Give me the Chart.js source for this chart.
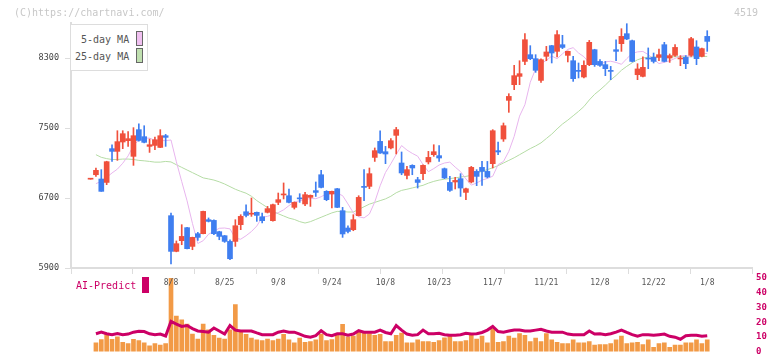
<!DOCTYPE html>
<html>
<head>
<meta charset="utf-8">
<script src="https://cdn.jsdelivr.net/npm/chart.js@4.4.1/dist/chart.umd.min.js"></script>
<style>
  html, body { margin: 0; padding: 0; background: #fff; }
  #wrap { position: relative; width: 772px; height: 361px; overflow: hidden; font-family: 'DejaVu Sans Mono', monospace; }
  #wrap canvas { position: absolute; left: 0; top: 0; }
  .txt { position: absolute; white-space: nowrap; font-size: 10px; line-height: 12px; }
  .sw { position: absolute; box-sizing: border-box; width: 7px; height: 15px; }
  #legendBox { position: absolute; left: 70px; top: 24px; width: 78px; height: 47px; box-sizing: border-box; border: 1px solid #ddd; background: #fff; }
</style>
</head>
<body>
<div id="wrap">
  <canvas id="volChart" width="772" height="361"></canvas>
  <canvas id="priceChart" width="772" height="361"></canvas>
  <div class="txt" style="left:14px;top:7px;color:#c8c8c8">(C)https://chartnavi.com/</div>
  <div class="txt" style="left:734px;top:7px;color:#c8c8c8">4519</div>
  <div id="legendBox"></div>
  <div class="txt" style="left:81px;top:34px;color:#555">5-day MA</div>
  <div class="txt" style="left:75px;top:51px;color:#555">25-day MA</div>
  <div class="sw" style="left:136px;top:31px;background:#f0c0f0;border:1px solid #666"></div>
  <div class="sw" style="left:136px;top:48px;background:#c0e0b0;border:1px solid #666"></div>
  <div class="txt" style="left:76px;top:280px;color:#cc0066">AI-Predict</div>
  <div class="sw" style="left:142px;top:277px;height:16px;background:#cc0066"></div>
</div>
<script>
// trading days, 7/17 .. 1/8
const dates = ['7/17','7/18','7/22','7/23','7/24','7/25','7/28','7/29','7/30','7/31',
  '8/1','8/4','8/5','8/6','8/7','8/8','8/12','8/13','8/14','8/15',
  '8/18','8/19','8/20','8/21','8/22','8/25','8/26','8/27','8/28','8/29',
  '9/1','9/2','9/3','9/4','9/5','9/8','9/9','9/10','9/11','9/12',
  '9/16','9/17','9/18','9/19','9/22','9/24','9/25','9/26','9/29','9/30',
  '10/1','10/2','10/3','10/6','10/7','10/8','10/9','10/10','10/14','10/15',
  '10/16','10/17','10/20','10/21','10/22','10/23','10/24','10/27','10/28','10/29',
  '10/30','10/31','11/4','11/5','11/6','11/7','11/10','11/11','11/12','11/13',
  '11/14','11/17','11/18','11/19','11/20','11/21','11/25','11/26','11/27','11/28',
  '12/1','12/2','12/3','12/4','12/5','12/8','12/9','12/10','12/11','12/12',
  '12/15','12/16','12/17','12/18','12/19','12/22','12/23','12/24','12/25','12/26',
  '12/29','12/30','1/5','1/6','1/7','1/8'];

const open = [6915,6966,6917,6878,7264,7233,7340,7355,7176,7481,
  7401,7290,7301,7278,7412,6498,6090,6212,6361,6147,
  6292,6292,6452,6444,6315,6269,6204,6204,6395,6543,
  6515,6536,6486,6536,6441,6650,6735,6726,6593,6700,
  6632,6707,6784,6966,6776,6746,6806,6555,6357,6338,
  6498,6833,6833,7164,7347,7229,7272,7416,7100,6958,
  7073,6909,6978,7112,7195,7184,7035,6878,6883,6921,
  6764,6883,7004,7050,7004,7092,7241,7374,7816,7995,
  8090,8261,8338,8292,8044,8319,8441,8376,8452,8330,
  8269,8159,8083,8224,8395,8261,8224,8155,8395,8464,
  8578,8498,8109,8090,8295,8307,8307,8452,8300,8330,
  8289,8307,8330,8426,8319,8547];
const high = [6915,7043,7024,7120,7309,7469,7469,7458,7504,7549,
  7526,7374,7397,7481,7427,6529,6209,6395,6365,6253,
  6307,6550,6472,6450,6320,6272,6223,6452,6509,6623,
  6700,6540,6529,6604,6630,6757,6872,6803,6655,6749,
  6764,6735,6883,7016,6784,6780,6810,6593,6383,6509,
  6726,7024,7043,7272,7469,7290,7378,7507,7226,7061,
  7080,6936,7078,7233,7309,7298,7043,6947,6936,6978,
  6814,7061,7024,7118,7118,7481,7340,7557,7892,8216,
  8269,8578,8441,8338,8290,8433,8445,8612,8559,8380,
  8319,8243,8269,8501,8400,8281,8261,8204,8509,8635,
  8692,8505,8235,8312,8415,8357,8403,8479,8346,8452,
  8327,8327,8536,8498,8412,8612];
const low = [6915,6947,6776,6852,7118,7130,7264,7290,7073,7350,
  7330,7221,7252,7275,7290,5946,6085,6166,6118,6109,
  6215,6290,6426,6281,6223,6193,5995,6147,6338,6483,
  6490,6433,6414,6529,6435,6624,6689,6645,6574,6650,
  6612,6604,6718,6815,6669,6586,6590,6250,6300,6326,
  6495,6669,6806,7118,7210,7092,7260,7203,6966,6917,
  6966,6814,6909,7089,7176,7118,6921,6776,6803,6718,
  6681,6872,6841,6844,6929,7043,7195,7347,7679,7938,
  7995,8224,8281,8136,8021,8269,8243,8312,8407,8255,
  8033,8072,8072,8212,8204,8204,8098,8052,8269,8376,
  8510,8255,8052,8085,8178,8243,8269,8255,8250,8319,
  8212,8178,8319,8224,8312,8376];
const close = [6915,7016,6776,7115,7233,7344,7435,7378,7412,7358,
  7336,7309,7366,7412,7393,6090,6178,6261,6121,6250,
  6250,6547,6433,6292,6261,6204,6006,6383,6490,6501,
  6522,6501,6441,6578,6624,6681,6740,6650,6650,6690,
  6738,6730,6764,6821,6681,6776,6593,6289,6318,6452,
  6707,6821,6978,7241,7214,7203,7355,7481,6986,7024,
  7043,6878,7073,7164,7229,7157,6929,6787,6901,6814,
  6806,7050,6947,7004,6940,7469,7226,7526,7861,8098,
  8121,8509,8292,8159,8281,8369,8357,8567,8421,8376,
  8064,8147,8216,8479,8224,8216,8178,8147,8376,8547,
  8517,8261,8175,8193,8288,8261,8338,8261,8327,8421,
  8300,8235,8521,8292,8407,8490];

const ma5 = [null,6864,6890,6936,6986,7030,7097,7181,7301,7360,
  7385,7384,7359,7356,7356,7363,7114,6888,6667,6409,
  6180,6212,6286,6320,6354,6357,6347,6239,6229,6269,
  6317,6380,6479,6491,6509,6533,6565,6613,6655,6669,
  6682,6694,6692,6714,6749,6747,6754,6727,6632,6531,
  6486,6472,6517,6655,6840,6992,7091,7198,7299,7248,
  7210,7178,7082,7001,7036,7077,7100,7110,7053,7001,
  6918,6847,6872,6904,6924,6949,7082,7117,7233,7404,
  7636,7766,8023,8176,8236,8272,8322,8292,8347,8399,
  8418,8357,8315,8245,8256,8226,8256,8263,8249,8228,
  8293,8353,8370,8375,8339,8287,8236,8251,8268,8295,
  8322,8329,8309,8361,8354,8351];
const ma25 = [null,7195,7165,7150,7140,7140,7145,7145,7140,7130,
  7125,7118,7110,7110,7118,7112,7080,7050,7020,6990,
  6960,6930,6918,6905,6885,6860,6830,6800,6776,6755,
  6720,6670,6630,6590,6550,6520,6495,6470,6455,6430,
  6414,6430,6455,6480,6505,6530,6547,6545,6540,6540,
  6570,6600,6630,6650,6670,6690,6720,6760,6787,6800,
  6815,6830,6845,6870,6890,6905,6915,6922,6930,6940,
  6947,6960,6985,7005,7025,7045,7070,7100,7130,7160,
  7195,7230,7265,7295,7330,7380,7430,7490,7545,7590,
  7640,7690,7745,7820,7885,7935,7990,8050,8100,8160,
  8205,8245,8280,8300,8310,8312,8314,8315,8315,8314,
  8316,8315,8314,8316,8318,8318];

// volume, million shares
const volume = [null,2.9,3.9,5.7,4.0,4.8,3.0,2.6,4.0,3.6,
  2.9,1.9,2.6,2.1,2.6,23.9,11.6,10.4,9.0,5.7,
  4.1,9.0,7.1,5.3,4.4,4.1,7.1,15.3,6.3,5.6,
  4.4,3.8,3.6,4.1,3.6,4.1,5.6,3.8,2.9,4.4,
  3.0,3.3,3.8,5.7,3.6,3.9,5.3,8.9,4.8,5.1,
  6.3,6.0,5.9,5.3,5.6,3.3,3.3,5.3,6.0,2.9,
  2.9,3.8,3.3,3.3,3.0,3.6,4.5,5.1,3.3,3.3,
  3.6,5.6,4.1,5.1,2.9,7.5,3.0,3.3,5.1,4.4,
  5.9,5.3,3.3,4.4,3.3,5.9,3.8,3.0,2.6,2.6,
  3.8,2.9,2.9,3.3,2.1,2.3,2.3,2.6,3.8,5.1,
  2.6,2.9,3.0,2.3,3.8,1.4,2.6,2.9,1.4,2.1,
  2.1,2.9,2.9,3.8,2.6,3.8];
const aiPredict = [null,12.1,13.2,12.1,11.5,12.3,11.5,11.9,13.2,13.8,
  13.6,12.1,11.5,11.9,10.6,20.5,18.7,17.1,17.7,15.6,
  14.0,13.6,13.2,16.0,14.0,11.9,17.7,14.6,14.0,14.0,
  14.0,12.7,11.5,11.5,11.5,13.2,14.0,13.2,13.2,11.9,
  10.4,9.8,10.8,14.2,11.5,10.8,12.1,12.1,11.1,11.9,
  14.2,13.2,13.2,13.2,14.6,13.0,12.1,17.7,14.6,11.9,
  11.1,11.5,14.6,12.1,12.1,12.5,11.5,11.1,11.1,11.5,
  12.5,11.9,12.1,13.0,14.6,17.1,13.6,13.2,14.0,14.6,
  14.6,14.0,14.0,14.6,15.2,14.0,13.2,13.2,13.2,11.9,
  11.5,11.5,11.5,14.0,11.9,12.1,11.5,12.1,13.2,14.6,
  13.0,11.5,10.4,11.5,11.5,11.1,11.5,11.9,10.4,9.8,
  8.4,10.8,11.1,11.1,10.4,10.8];

const yTicks = [5900, 6700, 7500, 8300];
const labelIdx = [15, 25, 35, 45, 55, 65, 75, 85, 95, 105, 115];

const UP = '#f0503c', DOWN = '#3f7ef0';
const candleColors = close.map((c, i) => c >= open[i] ? UP : DOWN);
const xMin = -3.65, xMax = 123.35;

Chart.defaults.font.family = "'DejaVu Sans Mono', monospace";

const pts = (arr) => arr.map((v, i) => ({ x: i, y: v }));

new Chart(document.getElementById('priceChart'), {
    type: 'bar',
    data: {
        datasets: [
            { type: 'line', data: pts(ma25), xAxisID: 'x', yAxisID: 'y', borderColor: '#b5dca5', borderWidth: 1, pointRadius: 0, order: 4 },
            { type: 'line', data: pts(ma5), xAxisID: 'x', yAxisID: 'y', borderColor: '#e8b5ee', borderWidth: 1, pointRadius: 0, order: 3 },
            { data: dates.map((d, i) => ({ x: i, y: [low[i], high[i]] })), xAxisID: 'x', yAxisID: 'y',
              backgroundColor: candleColors, barThickness: 1, grouped: false, order: 2 },
            { data: dates.map((d, i) => ({ x: i, y: [open[i], close[i]] })), xAxisID: 'x', yAxisID: 'y',
              backgroundColor: candleColors, barThickness: 5, minBarLength: 1, grouped: false, order: 1 }
        ]
    },
    options: {
        responsive: false,
        animation: false,
        devicePixelRatio: 1,
        layout: { padding: { top: 23, right: 20, left: 0, bottom: 0 } },
        plugins: { legend: { display: false }, tooltip: { enabled: false } },
        scales: {
            x: {
                type: 'linear', min: xMin, max: xMax, offset: false, position: 'bottom', weight: 10,
                afterBuildTicks: (s) => { s.ticks = labelIdx.map(v => ({ value: v })); },
                afterFit: (s) => { s.height = 87; },
                ticks: { callback: (v) => dates[v], autoSkip: false, maxRotation: 0, padding: 4, color: '#555', font: { size: 8 } },
                grid: { display: false, drawTicks: false, offset: false },
                border: { display: false }
            },
            xg: {
                type: 'linear', min: 0, max: 11, offset: false, position: 'bottom', weight: 0,
                ticks: { display: false, stepSize: 1 },
                grid: { drawOnChartArea: false, tickLength: 6, color: '#ddd', offset: false },
                border: { color: '#ddd', width: 2 }
            },
            y: {
                type: 'linear', min: 5900, max: 8700, beginAtZero: false, position: 'left',
                afterBuildTicks: (s) => { s.ticks = yTicks.map(v => ({ value: v })); },
                afterFit: (s) => { s.width = 71; },
                ticks: { callback: (v) => String(v), padding: 6, color: '#444', font: { size: 8.5 } },
                grid: { drawOnChartArea: false, tickLength: 6, color: '#ddd' },
                border: { color: '#ddd', width: 2 }
            }
        }
    }
});

new Chart(document.getElementById('volChart'), {
    type: 'bar',
    data: {
        datasets: [
            { type: 'line', data: pts(aiPredict), xAxisID: 'x', yAxisID: 'yai', borderColor: '#cc0066', borderWidth: 3, pointRadius: 0, order: 0 },
            { data: pts(volume), xAxisID: 'x', yAxisID: 'yv', backgroundColor: '#f29a46', barThickness: 4, grouped: false, order: 1 }
        ]
    },
    options: {
        responsive: false,
        animation: false,
        devicePixelRatio: 1,
        layout: { padding: { top: 278, right: 0, left: 71, bottom: 2.5 } },
        plugins: { legend: { display: false }, tooltip: { enabled: false } },
        scales: {
            x: { type: 'linear', min: xMin, max: xMax, offset: false, display: false, grid: { offset: false } },
            yv: { type: 'linear', min: 0, max: 24, display: false },
            yai: {
                type: 'linear', position: 'right', min: 0, max: 50,
                afterFit: (s) => { s.width = 20; },
                ticks: { stepSize: 10, padding: 4, color: '#cc0066', font: { size: 9, weight: 'bold' } },
                grid: { display: false, drawTicks: false },
                border: { display: false }
            }
        }
    }
});
</script>
</body>
</html>
